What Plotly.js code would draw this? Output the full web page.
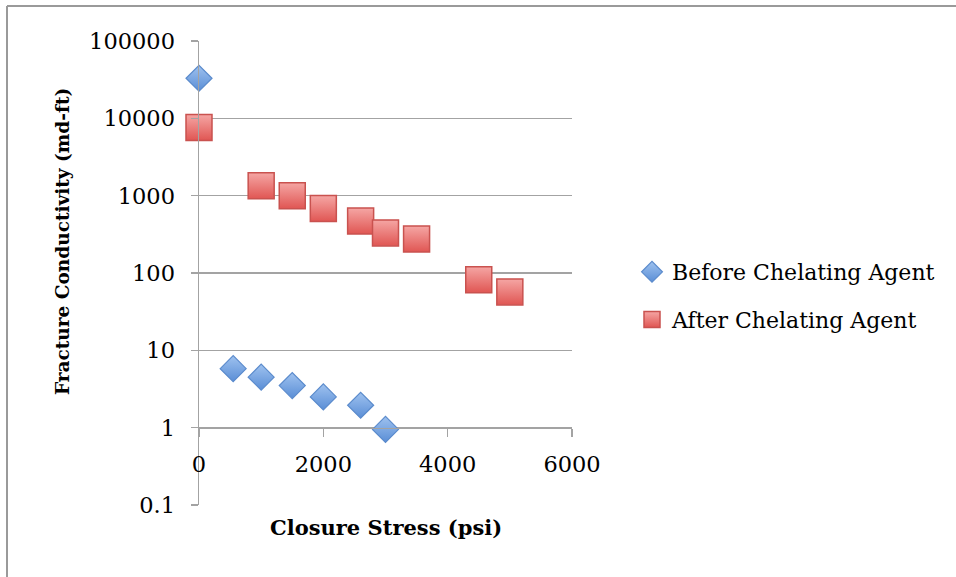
<!DOCTYPE html>
<html>
<head>
<meta charset="utf-8">
<script src="https://cdn.plot.ly/plotly-3.0.1.min.js"></script>
<style>html,body{margin:0;padding:0;background:#fff;}#chart{width:956px;height:577px;}</style>
</head>
<body>
<div id="chart"></div>
<script>
// Data
var beforeStress = [0, 550, 1000, 1500, 2000, 2600, 3000];
var beforeConductivity = [33000, 5.8, 4.5, 3.5, 2.5, 1.95, 0.95];
var afterStress = [0, 1000, 1500, 2000, 2600, 3000, 3500, 4500, 5000];
var afterConductivity = [7600, 1340, 1000, 680, 470, 330, 275, 82, 57];
var seriesNames = ["Before Chelating Agent", "After Chelating Agent"];
var yTickValues = [0.1, 1, 10, 100, 1000, 10000, 100000];
var yTickLabels = ["0.1", "1", "10", "100", "1000", "10000", "100000"];
var xTickValues = [0, 2000, 4000, 6000];
var xTickLabels = ["0", "2000", "4000", "6000"];
var xTitle = "Closure Stress (psi)";
var yTitle = "Fracture Conductivity (md-ft)";

// Pixel layout helpers (plot area 199..572 x, 41..505 y)
var L = 199, R = 572, T = 41, B = 505, W = 956, H = 577;
function px(x) { return (x - L) / (R - L); }
function py(y) { return (B - y) / (B - T); }

var font = "DejaVu Serif, serif";
var gray = "#a3a3a3";

var traces = [
  {
    x: beforeStress, y: beforeConductivity, name: seriesNames[0],
    type: "scatter", mode: "markers", legendgroup: "a", cliponaxis: false,
    marker: { symbol: "diamond", size: 20, color: "#9fc2ef",
      gradient: { type: "vertical", color: "#5a8ed6" },
      line: { color: "#5b8bcc", width: 1.2 } }
  },
  {
    x: afterStress, y: afterConductivity, name: seriesNames[1],
    type: "scatter", mode: "markers", legendgroup: "b", cliponaxis: false,
    marker: { symbol: "square", size: 26, color: "#f5a6a4",
      gradient: { type: "vertical", color: "#e05653" },
      line: { color: "#c9524f", width: 1.5 } }
  }
];

var layout = {
  width: W, height: H,
  margin: { l: L, r: W - R, t: T, b: H - B, pad: 0 },
  paper_bgcolor: "#fff", plot_bgcolor: "#fff",
  showlegend: true,
  font: { family: font, size: 22, color: "#000" },
  xaxis: {
    range: [0, 6000], tickvals: xTickValues, ticktext: xTickLabels,
    anchor: "free", position: 1 / 6,
    showgrid: false, zeroline: false,
    showline: true, linecolor: gray, linewidth: 1.5,
    ticks: "outside", ticklen: 8, tickcolor: gray, tickwidth: 1.5,
    ticklabelstandoff: 8,
    tickfont: { family: font, size: 22.5, color: "#000" }
  },
  yaxis: {
    type: "log", range: [-1, 5], tickvals: yTickValues, ticktext: yTickLabels,
    showgrid: true, gridcolor: gray, gridwidth: 1.5,
    showline: true, linecolor: gray, linewidth: 1.5,
    ticks: "outside", ticklen: 7, tickcolor: gray, tickwidth: 1.5,
    ticklabelstandoff: 11,
    zeroline: false,
    tickfont: { family: font, size: 22.5, color: "#000" }
  },
  legend: {
    x: px(632), y: py(296), xanchor: "left", yanchor: "middle",
    font: { family: font, size: 22, color: "#000" },
    tracegroupgap: 16, itemwidth: 30, bgcolor: "rgba(0,0,0,0)"
  },
  annotations: [
    { text: "<b>" + xTitle + "</b>", xref: "paper", yref: "paper",
      x: px(386), y: py(527), xanchor: "center", yanchor: "middle",
      showarrow: false, font: { family: font, size: 21, color: "#000" } },
    { text: "<b>" + yTitle + "</b>", xref: "paper", yref: "paper",
      x: px(62), y: py(242), xanchor: "center", yanchor: "middle", textangle: -90,
      showarrow: false, font: { family: font, size: 18.5, color: "#000" } }
  ],
  shapes: [
    { type: "line", xref: "paper", yref: "paper", x0: px(7), x1: px(956), y0: py(6), y1: py(6),
      line: { color: "#9a9a9a", width: 2 } },
    { type: "line", xref: "paper", yref: "paper", x0: px(7), x1: px(7), y0: py(6), y1: py(577),
      line: { color: "#9a9a9a", width: 2 } }
  ]
};

Plotly.newPlot("chart", traces, layout, { displayModeBar: false, staticPlot: true });
</script>
</body>
</html>
